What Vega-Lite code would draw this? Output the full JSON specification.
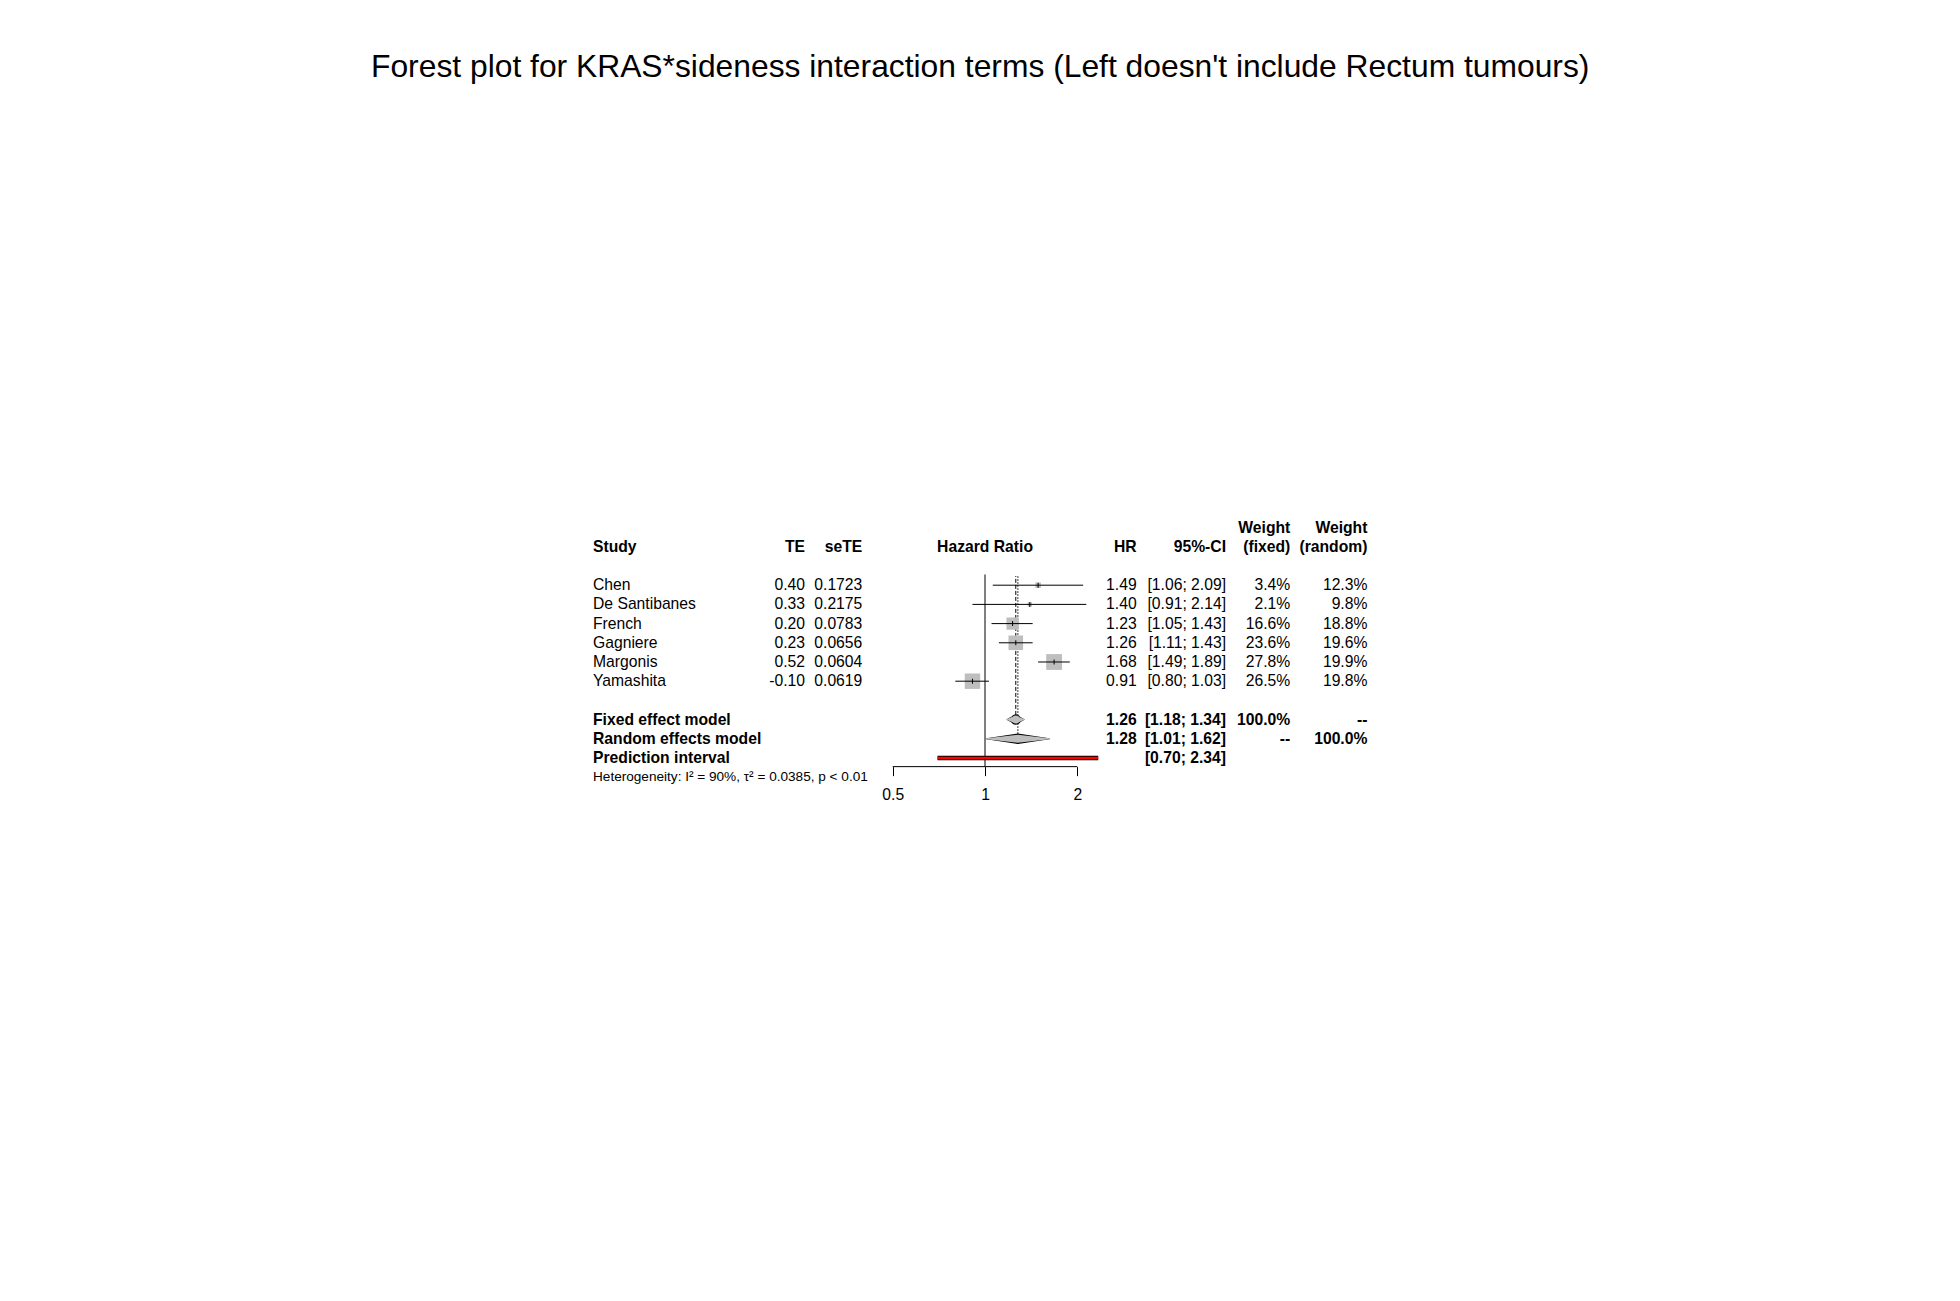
{
  "$schema": "https://vega.github.io/schema/vega-lite/v6.json",
  "padding": {"left": 370, "top": 52, "right": 10, "bottom": 10},
  "background": "white",
  "title": {
    "text": "Forest plot for KRAS*sideness interaction terms (Left doesn't include Rectum tumours)",
    "anchor": "middle", "fontSize": 31.8, "font": "Liberation Sans", "fontWeight": "normal",
    "color": "black", "baseline": "top", "offset": 434
  },
  "bounds": "flush",
  "spacing": 0,
  "datasets": {
    "studies": [
      {"label": "Chen", "TE": 0.40, "seTE": 0.1723, "HR": 1.49, "lo": 1.06, "hi": 2.09, "ci": "[1.06; 2.09]", "wf": 0.034, "wr": 0.123},
      {"label": "De Santibanes", "TE": 0.33, "seTE": 0.2175, "HR": 1.40, "lo": 0.91, "hi": 2.14, "ci": "[0.91; 2.14]", "wf": 0.021, "wr": 0.098},
      {"label": "French", "TE": 0.20, "seTE": 0.0783, "HR": 1.23, "lo": 1.05, "hi": 1.43, "ci": "[1.05; 1.43]", "wf": 0.166, "wr": 0.188},
      {"label": "Gagniere", "TE": 0.23, "seTE": 0.0656, "HR": 1.26, "lo": 1.11, "hi": 1.43, "ci": "[1.11; 1.43]", "wf": 0.236, "wr": 0.196},
      {"label": "Margonis", "TE": 0.52, "seTE": 0.0604, "HR": 1.68, "lo": 1.49, "hi": 1.89, "ci": "[1.49; 1.89]", "wf": 0.278, "wr": 0.199},
      {"label": "Yamashita", "TE": -0.10, "seTE": 0.0619, "HR": 0.91, "lo": 0.80, "hi": 1.03, "ci": "[0.80; 1.03]", "wf": 0.265, "wr": 0.198}
    ],
    "summary": [
      {"label": "Fixed effect model", "HR": 1.26, "lo": 1.18, "hi": 1.34, "ci": "[1.18; 1.34]", "wfText": "100.0%", "wrText": "--"},
      {"label": "Random effects model", "HR": 1.28, "lo": 1.01, "hi": 1.62, "ci": "[1.01; 1.62]", "wfText": "--", "wrText": "100.0%"},
      {"label": "Prediction interval", "lo": 0.70, "hi": 2.34, "ci": "[0.70; 2.34]"}
    ],
    "headers": [
      {"col": "Study", "label": "header2", "text": "Study"},
      {"col": "TE", "label": "header2", "text": "TE"},
      {"col": "seTE", "label": "header2", "text": "seTE"},
      {"col": "forest", "label": "header2", "text": "Hazard Ratio"},
      {"col": "HR", "label": "header2", "text": "HR"},
      {"col": "CI", "label": "header2", "text": "95%-CI"},
      {"col": "wf", "label": "header1", "text": "Weight"},
      {"col": "wf", "label": "header2", "text": "(fixed)"},
      {"col": "wr", "label": "header1", "text": "Weight"},
      {"col": "wr", "label": "header2", "text": "(random)"},
      {"col": "het", "label": "Heterogeneity", "text": "Heterogeneity: I² = 90%, τ² = 0.0385, p < 0.01"}
    ]
  },
  "config": {
    "view": {"stroke": null},
    "locale": {"number": {"decimal": ".", "thousands": ",", "grouping": [3], "currency": ["$", ""], "minus": "-"}},
    "text": {"font": "Liberation Sans", "fontSize": 15.7, "baseline": "middle", "color": "black"},
    "axis": {"grid": false, "domain": false, "tickColor": "black", "labelColor": "black", "labelFont": "Liberation Sans", "labelFontSize": 15.7, "tickSize": 9, "labelPadding": 12, "labelFlush": false, "labelOverlap": false, "tickWidth": 1}
  },
  "hconcat": [
    {
      "width": 212, "height": 268.8,
      "layer": [
        {"data": {"name": "headers"}, "transform": [{"filter": "datum.col === 'Study'"}],
         "mark": {"type": "text", "align": "left", "fontWeight": "bold"},
         "encoding": {
           "x": {"datum": 0, "type": "quantitative", "scale": {"domain": [0, 1]}, "axis": null},
           "y": {"field": "label", "type": "nominal", "scale": {"type": "point", "domain": ["header1","header2","gap1","Chen","De Santibanes","French","Gagniere","Margonis","Yamashita","gap2","Fixed effect model","Random effects model","Prediction interval","Heterogeneity"], "padding": 0.5}, "axis": null},
           "text": {"field": "text"}}},
        {"data": {"name": "headers"}, "transform": [{"filter": "datum.col === 'TE'"}],
         "mark": {"type": "text", "align": "right", "fontWeight": "bold"},
         "encoding": {
           "x": {"datum": 1, "type": "quantitative", "scale": {"domain": [0, 1]}, "axis": null},
           "y": {"field": "label", "type": "nominal", "scale": {"type": "point", "domain": ["header1","header2","gap1","Chen","De Santibanes","French","Gagniere","Margonis","Yamashita","gap2","Fixed effect model","Random effects model","Prediction interval","Heterogeneity"], "padding": 0.5}, "axis": null},
           "text": {"field": "text"}}},
        {"data": {"name": "studies"},
         "mark": {"type": "text", "align": "left"},
         "encoding": {
           "x": {"datum": 0, "type": "quantitative", "scale": {"domain": [0, 1]}, "axis": null},
           "y": {"field": "label", "type": "nominal", "scale": {"type": "point", "domain": ["header1","header2","gap1","Chen","De Santibanes","French","Gagniere","Margonis","Yamashita","gap2","Fixed effect model","Random effects model","Prediction interval","Heterogeneity"], "padding": 0.5}, "axis": null},
           "text": {"field": "label"}}},
        {"data": {"name": "studies"},
         "mark": {"type": "text", "align": "right"},
         "encoding": {
           "x": {"datum": 1, "type": "quantitative", "scale": {"domain": [0, 1]}, "axis": null},
           "y": {"field": "label", "type": "nominal", "scale": {"type": "point", "domain": ["header1","header2","gap1","Chen","De Santibanes","French","Gagniere","Margonis","Yamashita","gap2","Fixed effect model","Random effects model","Prediction interval","Heterogeneity"], "padding": 0.5}, "axis": null},
           "text": {"field": "TE", "type": "quantitative", "format": ".2f"}}},
        {"data": {"name": "summary"},
         "mark": {"type": "text", "align": "left", "fontWeight": "bold"},
         "encoding": {
           "x": {"datum": 0, "type": "quantitative", "scale": {"domain": [0, 1]}, "axis": null},
           "y": {"field": "label", "type": "nominal", "scale": {"type": "point", "domain": ["header1","header2","gap1","Chen","De Santibanes","French","Gagniere","Margonis","Yamashita","gap2","Fixed effect model","Random effects model","Prediction interval","Heterogeneity"], "padding": 0.5}, "axis": null},
           "text": {"field": "label"}}},
        {"data": {"name": "headers"}, "transform": [{"filter": "datum.col === 'het'"}],
         "mark": {"type": "text", "align": "left", "fontSize": 13.6},
         "encoding": {
           "x": {"datum": 0, "type": "quantitative", "scale": {"domain": [0, 1]}, "axis": null},
           "y": {"field": "label", "type": "nominal", "scale": {"type": "point", "domain": ["header1","header2","gap1","Chen","De Santibanes","French","Gagniere","Margonis","Yamashita","gap2","Fixed effect model","Random effects model","Prediction interval","Heterogeneity"], "padding": 0.5}, "axis": null},
           "text": {"field": "text"}}}
      ]
    },
    {
      "width": 57.3, "height": 268.8,
      "layer": [
        {"data": {"name": "headers"}, "transform": [{"filter": "datum.col === 'seTE'"}],
         "mark": {"type": "text", "align": "right", "fontWeight": "bold"},
         "encoding": {
           "x": {"datum": 1, "type": "quantitative", "scale": {"domain": [0, 1]}, "axis": null},
           "y": {"field": "label", "type": "nominal", "scale": {"type": "point", "domain": ["header1","header2","gap1","Chen","De Santibanes","French","Gagniere","Margonis","Yamashita","gap2","Fixed effect model","Random effects model","Prediction interval","Heterogeneity"], "padding": 0.5}, "axis": null},
           "text": {"field": "text"}}},
        {"data": {"name": "studies"},
         "mark": {"type": "text", "align": "right"},
         "encoding": {
           "x": {"datum": 1, "type": "quantitative", "scale": {"domain": [0, 1]}, "axis": null},
           "y": {"field": "label", "type": "nominal", "scale": {"type": "point", "domain": ["header1","header2","gap1","Chen","De Santibanes","French","Gagniere","Margonis","Yamashita","gap2","Fixed effect model","Random effects model","Prediction interval","Heterogeneity"], "padding": 0.5}, "axis": null},
           "text": {"field": "seTE", "type": "quantitative", "format": ".4f"}}}
      ]
    },
    {
      "width": 244.03, "height": 248.64,
      "layer": [
        {"data": {"name": "headers"}, "transform": [{"filter": "datum.col === 'forest'"}],
         "mark": {"type": "text", "align": "center", "fontWeight": "bold"},
         "encoding": {
           "x": {"datum": 1, "type": "quantitative", "scale": {"type": "log", "domain": [0.4, 2.5], "nice": false}, "axis": {"values": [0.5, 1, 2], "title": null, "format": "~g"}},
           "y": {"field": "label", "type": "nominal", "scale": {"type": "point", "domain": ["header1","header2","gap1","Chen","De Santibanes","French","Gagniere","Margonis","Yamashita","gap2","Fixed effect model","Random effects model","Prediction interval"], "padding": 0.475, "align": 0.526}, "axis": null},
           "text": {"field": "text"}}},
        {"data": {"name": "summary"}, "transform": [{"filter": "datum.label === 'Prediction interval'"}],
         "mark": {"type": "rule", "color": "black", "strokeWidth": 1, "yOffset": 8.64, "y2Offset": 8.5},
         "encoding": {
           "x": {"datum": 1, "type": "quantitative", "scale": {"type": "log", "domain": [0.4, 2.5], "nice": false}, "axis": {"values": [0.5, 1, 2], "title": null, "format": "~g"}},
           "y": {"field": "label", "type": "nominal", "scale": {"type": "point", "domain": ["header1","header2","gap1","Chen","De Santibanes","French","Gagniere","Margonis","Yamashita","gap2","Fixed effect model","Random effects model","Prediction interval"], "padding": 0.475, "align": 0.526}, "axis": null},
           "y2": {"datum": "gap1"}}},
        {"data": {"name": "summary"}, "transform": [{"filter": "datum.label === 'Prediction interval'"}],
         "mark": {"type": "rule", "color": "black", "strokeWidth": 1, "yOffset": 8.64},
         "encoding": {
           "x": {"datum": 0.5, "type": "quantitative", "scale": {"type": "log", "domain": [0.4, 2.5], "nice": false}, "axis": {"values": [0.5, 1, 2], "title": null, "format": "~g"}},
           "x2": {"datum": 2},
           "y": {"field": "label", "type": "nominal", "scale": {"type": "point", "domain": ["header1","header2","gap1","Chen","De Santibanes","French","Gagniere","Margonis","Yamashita","gap2","Fixed effect model","Random effects model","Prediction interval"], "padding": 0.475, "align": 0.526}, "axis": null}}},
        {"data": {"name": "summary"}, "transform": [{"filter": "datum.label === 'Fixed effect model'"}],
         "mark": {"type": "rule", "color": "black", "strokeWidth": 1, "strokeDash": [4, 2], "yOffset": -4.7, "y2Offset": 10},
         "encoding": {
           "x": {"field": "HR", "type": "quantitative", "scale": {"type": "log", "domain": [0.4, 2.5], "nice": false}, "axis": {"values": [0.5, 1, 2], "title": null, "format": "~g"}},
           "y": {"field": "label", "type": "nominal", "scale": {"type": "point", "domain": ["header1","header2","gap1","Chen","De Santibanes","French","Gagniere","Margonis","Yamashita","gap2","Fixed effect model","Random effects model","Prediction interval"], "padding": 0.475, "align": 0.526}, "axis": null},
           "y2": {"datum": "gap1"}}},
        {"data": {"name": "summary"}, "transform": [{"filter": "datum.label === 'Random effects model'"}],
         "mark": {"type": "rule", "color": "black", "strokeWidth": 1, "strokeDash": [1.5, 1.5], "yOffset": -5, "y2Offset": 10},
         "encoding": {
           "x": {"field": "HR", "type": "quantitative", "scale": {"type": "log", "domain": [0.4, 2.5], "nice": false}, "axis": {"values": [0.5, 1, 2], "title": null, "format": "~g"}},
           "y": {"field": "label", "type": "nominal", "scale": {"type": "point", "domain": ["header1","header2","gap1","Chen","De Santibanes","French","Gagniere","Margonis","Yamashita","gap2","Fixed effect model","Random effects model","Prediction interval"], "padding": 0.475, "align": 0.526}, "axis": null},
           "y2": {"datum": "gap1"}}},
        {"data": {"name": "studies"},
         "mark": {"type": "point", "shape": "square", "filled": true, "color": "#bebebe", "opacity": 1},
         "encoding": {
           "x": {"field": "HR", "type": "quantitative", "scale": {"type": "log", "domain": [0.4, 2.5], "nice": false}, "axis": {"values": [0.5, 1, 2], "title": null, "format": "~g"}},
           "y": {"field": "label", "type": "nominal", "scale": {"type": "point", "domain": ["header1","header2","gap1","Chen","De Santibanes","French","Gagniere","Margonis","Yamashita","gap2","Fixed effect model","Random effects model","Prediction interval"], "padding": 0.475, "align": 0.526}, "axis": null},
           "size": {"field": "wf", "type": "quantitative", "scale": {"domain": [0, 0.278], "range": [0, 250]}, "legend": null}}},
        {"data": {"name": "studies"},
         "mark": {"type": "rule", "color": "black", "strokeWidth": 1},
         "encoding": {
           "x": {"field": "lo", "type": "quantitative", "scale": {"type": "log", "domain": [0.4, 2.5], "nice": false}, "axis": {"values": [0.5, 1, 2], "title": null, "format": "~g"}},
           "x2": {"field": "hi"},
           "y": {"field": "label", "type": "nominal", "scale": {"type": "point", "domain": ["header1","header2","gap1","Chen","De Santibanes","French","Gagniere","Margonis","Yamashita","gap2","Fixed effect model","Random effects model","Prediction interval"], "padding": 0.475, "align": 0.526}, "axis": null}}},
        {"data": {"name": "studies"},
         "mark": {"type": "tick", "orient": "vertical", "size": 5, "thickness": 1, "color": "black", "opacity": 1},
         "encoding": {
           "x": {"field": "HR", "type": "quantitative", "scale": {"type": "log", "domain": [0.4, 2.5], "nice": false}, "axis": {"values": [0.5, 1, 2], "title": null, "format": "~g"}},
           "y": {"field": "label", "type": "nominal", "scale": {"type": "point", "domain": ["header1","header2","gap1","Chen","De Santibanes","French","Gagniere","Margonis","Yamashita","gap2","Fixed effect model","Random effects model","Prediction interval"], "padding": 0.475, "align": 0.526}, "axis": null}}},
        {"data": {"name": "summary"},
         "transform": [{"filter": "datum.label !== 'Prediction interval'"}, {"fold": ["lo", "HR", "hi"], "as": ["key", "value"]}],
         "mark": {"type": "trail", "color": "black", "opacity": 1},
         "encoding": {
           "x": {"field": "value", "type": "quantitative", "scale": {"type": "log", "domain": [0.4, 2.5], "nice": false}, "axis": {"values": [0.5, 1, 2], "title": null, "format": "~g"}},
           "y": {"field": "label", "type": "nominal", "scale": {"type": "point", "domain": ["header1","header2","gap1","Chen","De Santibanes","French","Gagniere","Margonis","Yamashita","gap2","Fixed effect model","Random effects model","Prediction interval"], "padding": 0.475, "align": 0.526}, "axis": null},
           "size": {"condition": {"test": "datum.key === 'HR'", "value": 10.5}, "value": 0},
           "detail": {"field": "label"}}},
        {"data": {"name": "summary"},
         "transform": [{"filter": "datum.label !== 'Prediction interval'"}, {"fold": ["lo", "HR", "hi"], "as": ["key", "value"]}],
         "mark": {"type": "trail", "color": "#bebebe", "opacity": 1},
         "encoding": {
           "x": {"field": "value", "type": "quantitative", "scale": {"type": "log", "domain": [0.4, 2.5], "nice": false}, "axis": {"values": [0.5, 1, 2], "title": null, "format": "~g"}},
           "y": {"field": "label", "type": "nominal", "scale": {"type": "point", "domain": ["header1","header2","gap1","Chen","De Santibanes","French","Gagniere","Margonis","Yamashita","gap2","Fixed effect model","Random effects model","Prediction interval"], "padding": 0.475, "align": 0.526}, "axis": null},
           "size": {"condition": {"test": "datum.key === 'HR'", "value": 8}, "value": 0},
           "detail": {"field": "label"}}},
        {"data": {"name": "summary"}, "transform": [{"filter": "datum.label === 'Prediction interval'"}],
         "mark": {"type": "rule", "color": "black", "strokeWidth": 4.5},
         "encoding": {
           "x": {"field": "lo", "type": "quantitative", "scale": {"type": "log", "domain": [0.4, 2.5], "nice": false}, "axis": {"values": [0.5, 1, 2], "title": null, "format": "~g"}},
           "x2": {"field": "hi"},
           "y": {"field": "label", "type": "nominal", "scale": {"type": "point", "domain": ["header1","header2","gap1","Chen","De Santibanes","French","Gagniere","Margonis","Yamashita","gap2","Fixed effect model","Random effects model","Prediction interval"], "padding": 0.475, "align": 0.526}, "axis": null}}},
        {"data": {"name": "summary"}, "transform": [{"filter": "datum.label === 'Prediction interval'"}],
         "mark": {"type": "rule", "color": "#ff0000", "strokeWidth": 2.5},
         "encoding": {
           "x": {"field": "lo", "type": "quantitative", "scale": {"type": "log", "domain": [0.4, 2.5], "nice": false}, "axis": {"values": [0.5, 1, 2], "title": null, "format": "~g"}},
           "x2": {"field": "hi"},
           "y": {"field": "label", "type": "nominal", "scale": {"type": "point", "domain": ["header1","header2","gap1","Chen","De Santibanes","French","Gagniere","Margonis","Yamashita","gap2","Fixed effect model","Random effects model","Prediction interval"], "padding": 0.475, "align": 0.526}, "axis": null}}}
      ]
    },
    {
      "width": 28.67, "height": 268.8,
      "layer": [
        {"data": {"name": "headers"}, "transform": [{"filter": "datum.col === 'HR'"}],
         "mark": {"type": "text", "align": "right", "fontWeight": "bold"},
         "encoding": {
           "x": {"datum": 1, "type": "quantitative", "scale": {"domain": [0, 1]}, "axis": null},
           "y": {"field": "label", "type": "nominal", "scale": {"type": "point", "domain": ["header1","header2","gap1","Chen","De Santibanes","French","Gagniere","Margonis","Yamashita","gap2","Fixed effect model","Random effects model","Prediction interval","Heterogeneity"], "padding": 0.5}, "axis": null},
           "text": {"field": "text"}}},
        {"data": {"name": "studies"},
         "mark": {"type": "text", "align": "right"},
         "encoding": {
           "x": {"datum": 1, "type": "quantitative", "scale": {"domain": [0, 1]}, "axis": null},
           "y": {"field": "label", "type": "nominal", "scale": {"type": "point", "domain": ["header1","header2","gap1","Chen","De Santibanes","French","Gagniere","Margonis","Yamashita","gap2","Fixed effect model","Random effects model","Prediction interval","Heterogeneity"], "padding": 0.5}, "axis": null},
           "text": {"field": "HR", "type": "quantitative", "format": ".2f"}}},
        {"data": {"name": "summary"}, "transform": [{"filter": "isValid(datum.HR)"}],
         "mark": {"type": "text", "align": "right", "fontWeight": "bold"},
         "encoding": {
           "x": {"datum": 1, "type": "quantitative", "scale": {"domain": [0, 1]}, "axis": null},
           "y": {"field": "label", "type": "nominal", "scale": {"type": "point", "domain": ["header1","header2","gap1","Chen","De Santibanes","French","Gagniere","Margonis","Yamashita","gap2","Fixed effect model","Random effects model","Prediction interval","Heterogeneity"], "padding": 0.5}, "axis": null},
           "text": {"field": "HR", "type": "quantitative", "format": ".2f"}}}
      ]
    },
    {
      "width": 89, "height": 268.8,
      "layer": [
        {"data": {"name": "headers"}, "transform": [{"filter": "datum.col === 'CI'"}],
         "mark": {"type": "text", "align": "right", "fontWeight": "bold"},
         "encoding": {
           "x": {"datum": 1, "type": "quantitative", "scale": {"domain": [0, 1]}, "axis": null},
           "y": {"field": "label", "type": "nominal", "scale": {"type": "point", "domain": ["header1","header2","gap1","Chen","De Santibanes","French","Gagniere","Margonis","Yamashita","gap2","Fixed effect model","Random effects model","Prediction interval","Heterogeneity"], "padding": 0.5}, "axis": null},
           "text": {"field": "text"}}},
        {"data": {"name": "studies"},
         "mark": {"type": "text", "align": "right"},
         "encoding": {
           "x": {"datum": 1, "type": "quantitative", "scale": {"domain": [0, 1]}, "axis": null},
           "y": {"field": "label", "type": "nominal", "scale": {"type": "point", "domain": ["header1","header2","gap1","Chen","De Santibanes","French","Gagniere","Margonis","Yamashita","gap2","Fixed effect model","Random effects model","Prediction interval","Heterogeneity"], "padding": 0.5}, "axis": null},
           "text": {"field": "ci"}}},
        {"data": {"name": "summary"},
         "mark": {"type": "text", "align": "right", "fontWeight": "bold"},
         "encoding": {
           "x": {"datum": 1, "type": "quantitative", "scale": {"domain": [0, 1]}, "axis": null},
           "y": {"field": "label", "type": "nominal", "scale": {"type": "point", "domain": ["header1","header2","gap1","Chen","De Santibanes","French","Gagniere","Margonis","Yamashita","gap2","Fixed effect model","Random effects model","Prediction interval","Heterogeneity"], "padding": 0.5}, "axis": null},
           "text": {"field": "ci"}}}
      ]
    },
    {
      "width": 64.3, "height": 268.8,
      "layer": [
        {"data": {"name": "headers"}, "transform": [{"filter": "datum.col === 'wf'"}],
         "mark": {"type": "text", "align": "right", "fontWeight": "bold"},
         "encoding": {
           "x": {"datum": 1, "type": "quantitative", "scale": {"domain": [0, 1]}, "axis": null},
           "y": {"field": "label", "type": "nominal", "scale": {"type": "point", "domain": ["header1","header2","gap1","Chen","De Santibanes","French","Gagniere","Margonis","Yamashita","gap2","Fixed effect model","Random effects model","Prediction interval","Heterogeneity"], "padding": 0.5}, "axis": null},
           "text": {"field": "text"}}},
        {"data": {"name": "studies"},
         "mark": {"type": "text", "align": "right"},
         "encoding": {
           "x": {"datum": 1, "type": "quantitative", "scale": {"domain": [0, 1]}, "axis": null},
           "y": {"field": "label", "type": "nominal", "scale": {"type": "point", "domain": ["header1","header2","gap1","Chen","De Santibanes","French","Gagniere","Margonis","Yamashita","gap2","Fixed effect model","Random effects model","Prediction interval","Heterogeneity"], "padding": 0.5}, "axis": null},
           "text": {"field": "wf", "type": "quantitative", "format": ".1%"}}},
        {"data": {"name": "summary"}, "transform": [{"filter": "isValid(datum.wfText)"}],
         "mark": {"type": "text", "align": "right", "fontWeight": "bold"},
         "encoding": {
           "x": {"datum": 1, "type": "quantitative", "scale": {"domain": [0, 1]}, "axis": null},
           "y": {"field": "label", "type": "nominal", "scale": {"type": "point", "domain": ["header1","header2","gap1","Chen","De Santibanes","French","Gagniere","Margonis","Yamashita","gap2","Fixed effect model","Random effects model","Prediction interval","Heterogeneity"], "padding": 0.5}, "axis": null},
           "text": {"field": "wfText"}}}
      ]
    },
    {
      "width": 76.4, "height": 268.8,
      "layer": [
        {"data": {"name": "headers"}, "transform": [{"filter": "datum.col === 'wr'"}],
         "mark": {"type": "text", "align": "right", "fontWeight": "bold"},
         "encoding": {
           "x": {"datum": 1, "type": "quantitative", "scale": {"domain": [0, 1]}, "axis": null},
           "y": {"field": "label", "type": "nominal", "scale": {"type": "point", "domain": ["header1","header2","gap1","Chen","De Santibanes","French","Gagniere","Margonis","Yamashita","gap2","Fixed effect model","Random effects model","Prediction interval","Heterogeneity"], "padding": 0.5}, "axis": null},
           "text": {"field": "text"}}},
        {"data": {"name": "studies"},
         "mark": {"type": "text", "align": "right"},
         "encoding": {
           "x": {"datum": 1, "type": "quantitative", "scale": {"domain": [0, 1]}, "axis": null},
           "y": {"field": "label", "type": "nominal", "scale": {"type": "point", "domain": ["header1","header2","gap1","Chen","De Santibanes","French","Gagniere","Margonis","Yamashita","gap2","Fixed effect model","Random effects model","Prediction interval","Heterogeneity"], "padding": 0.5}, "axis": null},
           "text": {"field": "wr", "type": "quantitative", "format": ".1%"}}},
        {"data": {"name": "summary"}, "transform": [{"filter": "isValid(datum.wrText)"}],
         "mark": {"type": "text", "align": "right", "fontWeight": "bold"},
         "encoding": {
           "x": {"datum": 1, "type": "quantitative", "scale": {"domain": [0, 1]}, "axis": null},
           "y": {"field": "label", "type": "nominal", "scale": {"type": "point", "domain": ["header1","header2","gap1","Chen","De Santibanes","French","Gagniere","Margonis","Yamashita","gap2","Fixed effect model","Random effects model","Prediction interval","Heterogeneity"], "padding": 0.5}, "axis": null},
           "text": {"field": "wrText"}}}
      ]
    }
  ]
}
